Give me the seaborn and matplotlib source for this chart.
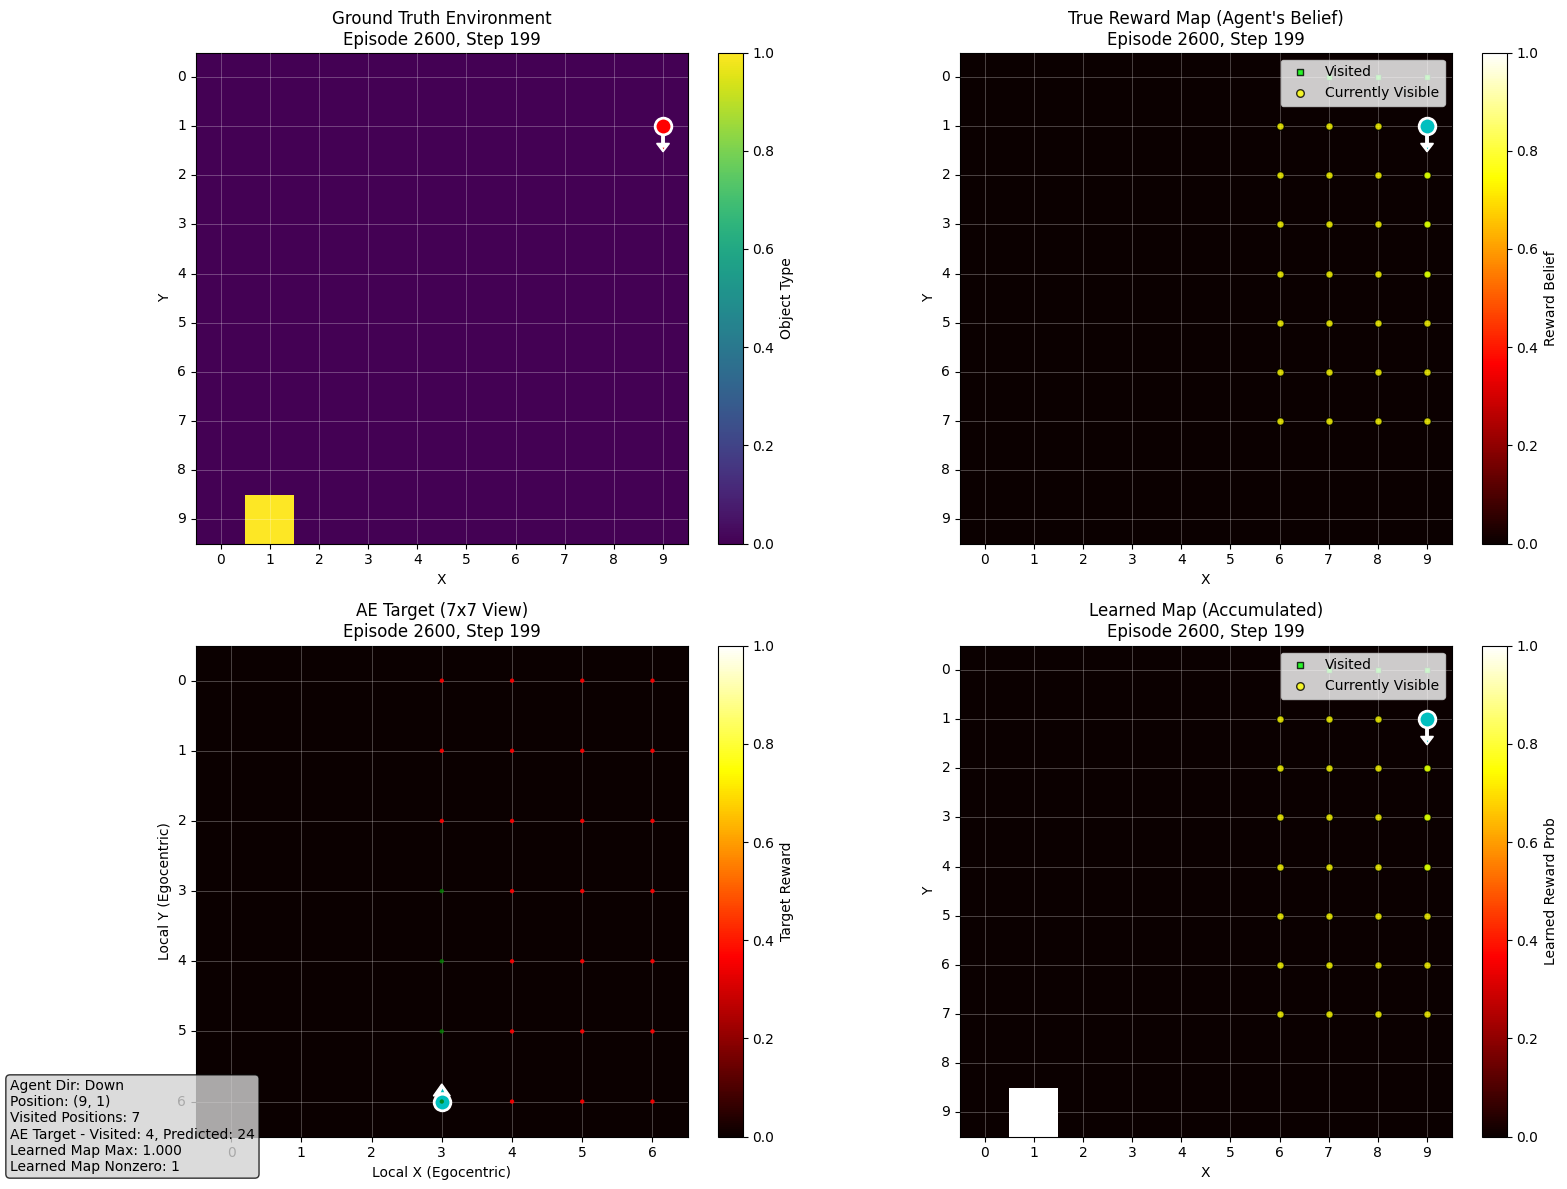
import numpy as np
import seaborn as sns
from matplotlib import pyplot as plt

FIG_W, FIG_H = 1567, 1189
GRID_SIZE = 10
EGO_SIZE = 7

goal_x, goal_y = [1], [9]
agent_x, agent_y = 9, 1
ego_agent_x, ego_agent_y = 3, 6

visited_x = [7, 8, 9, 9, 9, 9, 9]
visited_y = [0, 0, 0, 1, 2, 3, 4]
visible_x = [6, 7, 8, 9]
visible_y = [1, 2, 3, 4, 5, 6, 7]

ego_visited_x = [3, 3, 3, 3]
ego_visited_y = [3, 4, 5, 6]
ego_pred_x = [3, 3, 3, 4, 4, 4, 4, 4, 4, 4, 5, 5, 5, 5, 5, 5, 5, 6, 6, 6, 6, 6, 6, 6]
ego_pred_y = [0, 1, 2, 0, 1, 2, 3, 4, 5, 6, 0, 1, 2, 3, 4, 5, 6, 0, 1, 2, 3, 4, 5, 6]

info_lines = ['Agent Dir: Down', 'Position: (9, 1)', 'Visited Positions: 7',
              'AE Target - Visited: 4, Predicted: 24',
              'Learned Map Max: 1.000', 'Learned Map Nonzero: 1']


def make_axes(fig, left, top):
    w, h = 491.6 / FIG_W, 491 / FIG_H
    ax = fig.add_axes([left / FIG_W, 1 - top / FIG_H - h, w, h])
    cax = fig.add_axes([(left + 522) / FIG_W, 1 - top / FIG_H - h, 24.5 / FIG_W, h])
    return ax, cax


def draw_map(ax, cax, data, cmap, title, xlabel, ylabel, cbar_label, title_pad=6):
    sns.heatmap(data, ax=ax, cbar_ax=cax, cmap=cmap, vmin=0, vmax=1, square=False)
    n = data.shape[0]
    ax.set_xticks(np.arange(n) + 0.5, labels=range(n), rotation=0)
    ax.set_yticks(np.arange(n) + 0.5, labels=range(n), rotation=0)
    ax.grid(True, color='white', alpha=0.3, linewidth=0.6)
    ax.set_axisbelow(False)
    for side in ax.spines.values():
        side.set_visible(True)
    cbar = ax.collections[0].colorbar
    cbar.outline.set_visible(True)
    cbar.outline.set_linewidth(0.8)
    cbar.ax.tick_params(length=3.5, width=0.8)
    cbar.set_label(cbar_label)
    ax.set_title(title + '\nEpisode 2600, Step 199', fontsize=12, pad=title_pad)
    ax.set_xlabel(xlabel)
    ax.set_ylabel(ylabel)


def draw_agent(ax, x, y, color, dy, head_w, head_l, tip_y, tip_marker, tip_size):
    ax.arrow(x + 0.5, y + 0.5, 0, dy, head_width=head_w, head_length=head_l,
             fc='white', ec='white', width=0.05, zorder=6)
    ax.plot(x + 0.5, y + 0.5 + tip_y, tip_marker, color=color, ms=tip_size, mew=0, zorder=7)
    ax.plot(x + 0.5, y + 0.5, 'o', color=color, ms=12, mec='white', mew=2, zorder=7)


def draw_belief_marks(ax):
    xs, ys = np.meshgrid(visible_x, visible_y)
    ax.scatter(np.array(visited_x) + 0.5, np.array(visited_y) + 0.5, c='lime', s=16, marker='s',
               alpha=0.8, edgecolors='black', linewidths=1, zorder=4, label='Visited')
    ax.scatter(xs.ravel() + 0.5, ys.ravel() + 0.5, c='yellow', s=30, alpha=0.8,
               edgecolors='black', linewidths=1, zorder=4, label='Currently Visible')
    ax.legend(loc='upper right', fontsize=10)


ground_truth = np.zeros((GRID_SIZE, GRID_SIZE))
ground_truth[goal_y, goal_x] = 1.0
true_reward = np.zeros((GRID_SIZE, GRID_SIZE))
ae_target = np.zeros((EGO_SIZE, EGO_SIZE))
learned_map = np.zeros((GRID_SIZE, GRID_SIZE))
learned_map[goal_y, goal_x] = 1.0

fig = plt.figure(figsize=(FIG_W / 100, FIG_H / 100), dpi=100)

ax1, cax1 = make_axes(fig, 196, 52.6)
draw_map(ax1, cax1, ground_truth, 'viridis', 'Ground Truth Environment', 'X', 'Y', 'Object Type', title_pad=5.3)
draw_agent(ax1, agent_x, agent_y, 'red', 0.35, 0.26, 0.17, 0.44, 'v', 1.2)

ax2, cax2 = make_axes(fig, 960, 52.6)
draw_map(ax2, cax2, true_reward, 'hot', "True Reward Map (Agent's Belief)", 'X', 'Y', 'Reward Belief', title_pad=5.3)
draw_belief_marks(ax2)
draw_agent(ax2, agent_x, agent_y, 'c', 0.35, 0.26, 0.17, 0.44, 'v', 1.2)

ax3, cax3 = make_axes(fig, 196, 645.6)
draw_map(ax3, cax3, ae_target, 'hot', 'AE Target (7x7 View)', 'Local X (Egocentric)', 'Local Y (Egocentric)',
         'Target Reward')
ax3.scatter(np.array(ego_pred_x) + 0.5, np.array(ego_pred_y) + 0.5, c='red', s=10, alpha=0.9, zorder=8,
            edgecolors='none')
ax3.scatter(np.array(ego_visited_x) + 0.5, np.array(ego_visited_y) + 0.5, c='green', s=10, alpha=0.8,
            zorder=8, edgecolors='none')
draw_agent(ax3, ego_agent_x, ego_agent_y, 'c', -0.08, 0.24, 0.17, -0.17, '^', 2.5)

ax4, cax4 = make_axes(fig, 960, 645.6)
draw_map(ax4, cax4, learned_map, 'hot', 'Learned Map (Accumulated)', 'X', 'Y', 'Learned Reward Prob')
draw_belief_marks(ax4)
draw_agent(ax4, agent_x, agent_y, 'c', 0.35, 0.26, 0.17, 0.44, 'v', 1.2)

fig.text(10 / FIG_W, 1 - 1174 / FIG_H, '\n'.join(info_lines), fontsize=10, va='bottom', ha='left',
         zorder=20, bbox=dict(boxstyle='round', facecolor='lightgray', alpha=0.8, edgecolor='black'))

fig.savefig('out.png', dpi=100)
